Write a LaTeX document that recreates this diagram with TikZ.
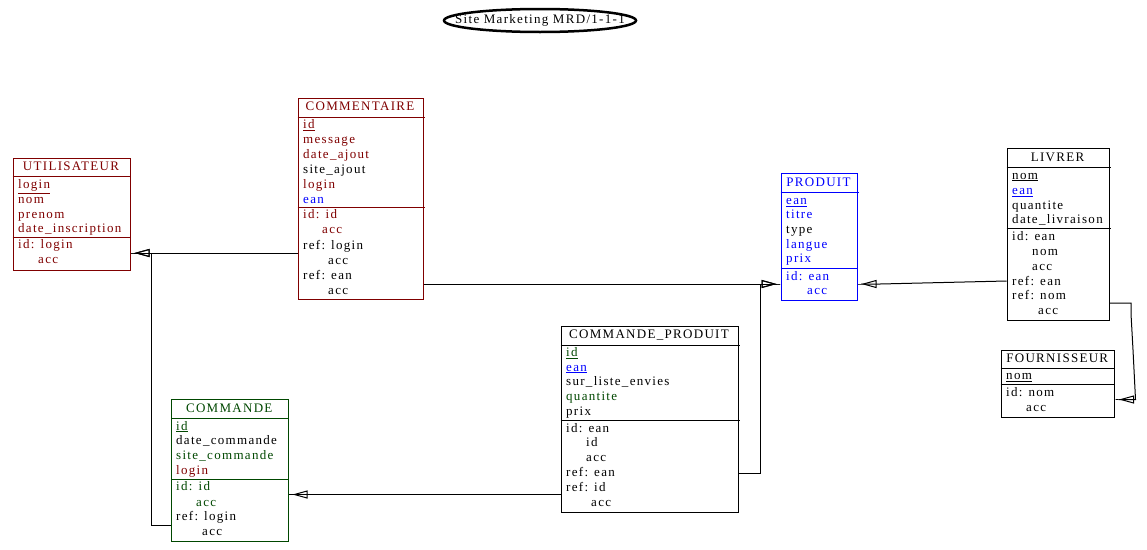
\documentclass[tikz,border=0pt]{standalone}
\usepackage{fontspec}
\setmainfont{Liberation Serif}
\newfontfamily\erfont[LetterSpace=10]{Liberation Serif}
\usetikzlibrary{arrows.meta,shapes.geometric}
\definecolor{dred}{RGB}{128,0,0}
\definecolor{dgreen}{RGB}{0,72,0}
\definecolor{pblue}{RGB}{0,0,255}
\tikzset{
  rowtxt/.style={anchor=west, inner sep=0pt, font=\erfont\fontsize{13}{15}\selectfont, text height=9pt, text depth=3pt},
  ttl/.style={anchor=center, inner sep=0pt, font=\erfont\fontsize{13}{15}\selectfont, text height=9pt, text depth=3pt},
  ent/.style={draw, line width=1pt, anchor=north west, inner sep=0pt},
  sepline/.style={line width=1pt},
  conn/.style={draw=black, line width=1pt},
  refto/.style={conn, -{Triangle[open,length=15pt,width=8pt]Rectangle[length=4pt,width=1pt]}}
}
\newcommand\rw[5]{\node[rowtxt,text=#4] (#1) at (#2,#3) {#5};}
\begin{document}
\begin{tikzpicture}[x=1pt,y=-1pt]
\fill[white] (0,0) rectangle (1147,549);
\useasboundingbox (0,0) rectangle (1147,549);

% title
\node[ttl] (title) at (540,20.5) {Site Marketing MRD/1-1-1};
\draw[line width=2.5pt] (title.center) ellipse [x radius=96, y radius=11.5];

% UTILISATEUR
\node[ent, dred, minimum width=117pt, minimum height=112.5pt] (util) at (12.5,157.5) {};
\draw[sepline, dred] (util.west |- 0,176.5) -- ++(117,0);
\draw[sepline, dred] (util.west |- 0,237) -- ++(117,0);
\node[ttl, text=dred] (utilT) at (71,167) {UTILISATEUR};
\rw{u1}{18}{185.5}{dred}{\underline{login}}
\rw{u2}{18}{200}{dred}{nom}
\rw{u3}{18}{215}{dred}{prenom}
\rw{u4}{18}{229.5}{dred}{date\_inscription}
\rw{u5}{18}{245.5}{dred}{id: login}
\rw{u6}{38}{260.5}{dred}{acc}

% COMMENTAIRE
\node[ent, dred, minimum width=125pt, minimum height=201.5pt] (comm) at (297.5,97.5) {};
\draw[sepline, dred] (comm.west |- 0,117.5) -- ++(127,0);
\draw[sepline, dred] (comm.west |- 0,207.5) -- ++(127,0);
\node[ttl, text=dred] (commT) at (360,107.5) {COMMENTAIRE};
\rw{c1}{303}{125.5}{dred}{\underline{id}}
\rw{c2}{303}{140}{dred}{message}
\rw{c3}{303}{155}{dred}{date\_ajout}
\rw{c4}{303}{170}{black}{site\_ajout}
\rw{c5}{303}{185}{dred}{login}
\rw{c6}{303}{200}{pblue}{ean}
\rw{c7}{303}{215.5}{dred}{id: id}
\rw{c8}{322}{230.5}{dred}{acc}
\rw{c9}{303}{246}{black}{ref: login}
\rw{c10}{328}{261}{black}{acc}
\rw{c11}{303}{276}{black}{ref: ean}
\rw{c12}{328}{291}{black}{acc}

% PRODUIT
\node[ent, pblue, minimum width=76pt, minimum height=127.5pt] (prod) at (780.5,172.5) {};
\draw[sepline, pblue] (prod.west |- 0,192.5) -- ++(78,0);
\draw[sepline, pblue] (prod.west |- 0,268.5) -- ++(76,0);
\node[ttl, text=pblue] (prodT) at (818.5,183) {PRODUIT};
\rw{p1}{786}{201.5}{pblue}{\underline{ean}}
\rw{p2}{786}{215.5}{pblue}{titre}
\rw{p3}{786}{230}{black}{type}
\rw{p4}{786}{245}{pblue}{langue}
\rw{p5}{786}{259.5}{pblue}{prix}
\rw{p6}{786}{277}{pblue}{id: ean}
\rw{p7}{807}{291}{pblue}{acc}

% LIVRER
\node[ent, black, minimum width=102pt, minimum height=172.5pt] (livr) at (1006.5,147.5) {};
\draw[sepline] (livr.west |- 0,167.5) -- ++(104,0);
\draw[sepline] (livr.west |- 0,228.5) -- ++(104,0);
\node[ttl] (livrT) at (1057.5,158) {LIVRER};
\rw{l1}{1012}{176}{black}{\underline{nom}}
\rw{l2}{1012}{191.5}{pblue}{\underline{ean}}
\rw{l3}{1012}{206}{black}{quantite}
\rw{l4}{1012}{220.5}{black}{date\_livraison}
\rw{l5}{1012}{237.5}{black}{id: ean}
\rw{l6}{1032}{252}{black}{nom}
\rw{l7}{1032}{267}{black}{acc}
\rw{l8}{1012}{282}{black}{ref: ean}
\rw{l9}{1012}{296.5}{black}{ref: nom}
\rw{l10}{1038}{311}{black}{acc}

% FOURNISSEUR
\node[ent, black, minimum width=113.5pt, minimum height=67.5pt] (four) at (1000.5,349.5) {};
\draw[sepline] (four.west |- 0,368.5) -- ++(113.5,0);
\draw[sepline] (four.west |- 0,384.5) -- ++(113.5,0);
\node[ttl] (fourT) at (1057.25,359.5) {FOURNISSEUR};
\rw{f1}{1006}{376.5}{black}{\underline{nom}}
\rw{f2}{1006}{393}{black}{id: nom}
\rw{f3}{1026}{408}{black}{acc}

% COMMANDE_PRODUIT
\node[ent, black, minimum width=177pt, minimum height=186pt] (cp) at (560.5,326) {};
\draw[sepline] (cp.west |- 0,345.5) -- ++(179,0);
\draw[sepline] (cp.west |- 0,420.5) -- ++(179,0);
\node[ttl] (cpT) at (649,335.5) {COMMANDE\_PRODUIT};
\rw{cp1}{566}{353.5}{dgreen}{\underline{id}}
\rw{cp2}{566}{368}{pblue}{\underline{ean}}
\rw{cp3}{566}{382.5}{black}{sur\_liste\_envies}
\rw{cp4}{566}{397.5}{dgreen}{quantite}
\rw{cp5}{566}{412}{black}{prix}
\rw{cp6}{566}{429}{black}{id: ean}
\rw{cp7}{586}{443}{black}{id}
\rw{cp8}{586}{458}{black}{acc}
\rw{cp9}{566}{473}{black}{ref: ean}
\rw{cp10}{566}{488}{black}{ref: id}
\rw{cp11}{591}{503}{black}{acc}

% COMMANDE
\node[ent, dgreen, minimum width=116.5pt, minimum height=142.5pt] (cmd) at (171,398.5) {};
\draw[sepline, dgreen] (cmd.west |- 0,418.5) -- ++(116.5,0);
\draw[sepline, dgreen] (cmd.west |- 0,479.5) -- ++(116.5,0);
\node[ttl, text=dgreen] (cmdT) at (229.25,409) {COMMANDE};
\rw{m1}{176}{427}{dgreen}{\underline{id}}
\rw{m2}{176}{441.5}{black}{date\_commande}
\rw{m3}{176}{456.5}{dgreen}{site\_commande}
\rw{m4}{176}{471}{dred}{login}
\rw{m5}{176}{487.5}{dgreen}{id: id}
\rw{m6}{196}{503}{dgreen}{acc}
\rw{m7}{176}{517.5}{black}{ref: login}
\rw{m8}{202}{532.5}{black}{acc}

% connectors
\draw[refto] (comm.west |- 0,253) -- (util.east |- 0,253);
\draw[refto] (cmd.west |- 0,525) -- (151,525) -- (151,253) -- (util.east |- 0,253);
\draw[refto] (comm.east |- 0,284) -- (prod.west |- 0,284);
\draw[refto] (cp.east |- 0,473) -- (760,473) -- (760,284) -- (prod.west |- 0,284);
\draw[refto] (livr.west |- 0,281) -- (880,284) -- (prod.east |- 0,284);
\draw[refto] (livr.east |- 0,303) -- (1131,303) -- (1131,314) -- (1133,350) -- (1135.5,399.5) -- (four.east |- 0,399.5);
\draw[refto] (cp.west |- 0,494.5) -- (cmd.east |- 0,494.5);
\end{tikzpicture}
\end{document}
